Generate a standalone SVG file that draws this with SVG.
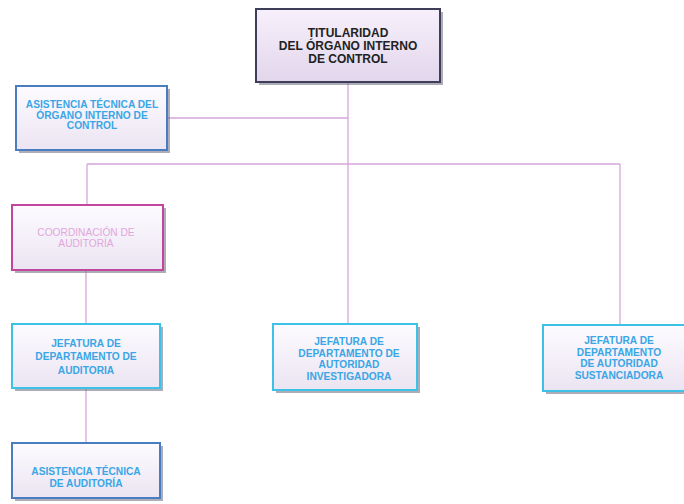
<svg xmlns="http://www.w3.org/2000/svg" width="684" height="504" viewBox="0 0 684 504">
<defs>
<linearGradient id="g" x1="0" y1="0" x2="0" y2="1">
<stop offset="0" stop-color="#fdfbff"/>
<stop offset="1" stop-color="#ebe4f2"/>
</linearGradient>
<linearGradient id="gt" x1="0" y1="0" x2="0" y2="1">
<stop offset="0" stop-color="#f7f0fb"/>
<stop offset="1" stop-color="#e2d6ec"/>
</linearGradient>
<style>
text{font-family:"Liberation Sans",Arial,sans-serif;text-anchor:middle}
.t{font-size:12px;font-weight:bold;fill:#222}
.b{font-size:10.2px;font-weight:bold;fill:#3aa6e6}
.c{font-size:10.2px;fill:#e2a6dc}
.conn line{stroke:#d6a6dc;stroke-width:1.3}
.sh{fill:#6a6a80;opacity:0.55}
</style>
</defs>
<rect width="684" height="504" fill="#ffffff"/>
<g class="conn" id="connectors">
<line x1="348" y1="82" x2="348" y2="325"/>
<line x1="167" y1="118" x2="348" y2="118"/>
<line x1="87" y1="164" x2="620" y2="164"/>
<line x1="87" y1="164" x2="87" y2="205"/>
<line x1="620" y1="164" x2="620" y2="325"/>
<line x1="86" y1="270" x2="86" y2="324"/>
<line x1="86" y1="388" x2="86" y2="443"/>
</g>
<g id="titular">
<rect class="sh" x="259" y="12" width="184" height="73"/>
<rect x="256" y="9" width="184" height="73" fill="url(#gt)" stroke="#3e3e58" stroke-width="2"/>
<text class="t" x="348" y="37">TITULARIDAD</text>
<text class="t" x="348" y="50">DEL ÓRGANO INTERNO</text>
<text class="t" x="348" y="63">DE CONTROL</text>
</g>
<g id="asistencia-oic">
<rect class="sh" x="19" y="89" width="151" height="64"/>
<rect x="16" y="86" width="151" height="64" fill="url(#g)" stroke="#4a7cc0" stroke-width="2"/>
<text class="b" x="92" y="108">ASISTENCIA TÉCNICA  DEL</text>
<text class="b" x="92" y="118.5">ÓRGANO INTERNO DE</text>
<text class="b" x="92" y="129">CONTROL</text>
</g>
<g id="coordinacion">
<rect class="sh" x="15" y="208" width="151" height="65"/>
<rect x="12" y="205" width="151" height="65" fill="url(#g)" stroke="#c2469e" stroke-width="2"/>
<text class="c" x="86" y="236">COORDINACIÓN DE</text>
<text class="c" x="86" y="247">AUDITORÍA</text>
</g>
<g id="jefatura-auditoria">
<rect class="sh" x="15" y="327" width="148" height="64"/>
<rect x="12" y="324" width="148" height="64" fill="url(#g)" stroke="#3cc2e6" stroke-width="2"/>
<text class="b" x="86" y="347">JEFATURA DE</text>
<text class="b" x="86" y="360">DEPARTAMENTO DE</text>
<text class="b" x="86" y="374">AUDITORIA</text>
</g>
<g id="jefatura-investigadora">
<rect class="sh" x="276" y="327" width="144" height="66"/>
<rect x="273" y="324" width="144" height="66" fill="url(#g)" stroke="#3cc2e6" stroke-width="2"/>
<text class="b" x="349" y="345">JEFATURA DE</text>
<text class="b" x="349" y="356.5">DEPARTAMENTO DE</text>
<text class="b" x="349" y="368">AUTORIDAD</text>
<text class="b" x="349" y="380">INVESTIGADORA</text>
</g>
<g id="jefatura-sustanciadora">
<rect class="sh" x="546" y="328" width="152" height="66"/>
<rect x="543" y="325" width="152" height="66" fill="url(#g)" stroke="#3cc2e6" stroke-width="2"/>
<text class="b" x="619" y="344">JEFATURA DE</text>
<text class="b" x="619" y="355.5">DEPARTAMENTO</text>
<text class="b" x="619" y="367">DE AUTORIDAD</text>
<text class="b" x="619" y="379">SUSTANCIADORA</text>
</g>
<g id="asistencia-auditoria">
<rect class="sh" x="15" y="446" width="148" height="55"/>
<rect x="12" y="443" width="148" height="55" fill="url(#g)" stroke="#4a7cc0" stroke-width="2"/>
<text class="b" x="86" y="475">ASISTENCIA TÉCNICA</text>
<text class="b" x="86" y="487">DE AUDITORÍA</text>
</g>
</svg>
